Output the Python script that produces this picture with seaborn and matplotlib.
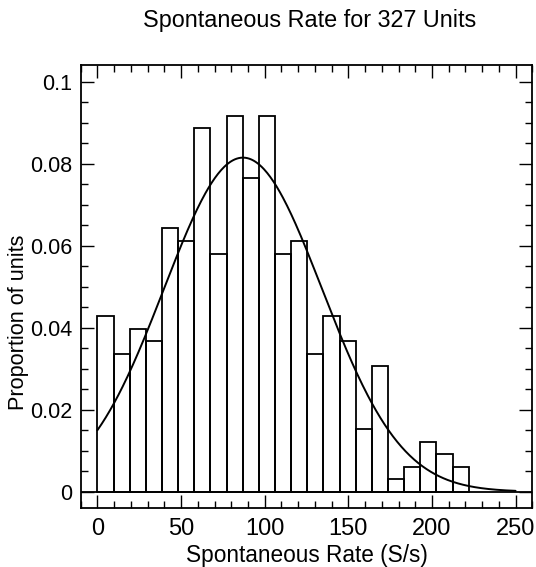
import numpy as np
import pandas as pd
import matplotlib
matplotlib.use("Agg")
import matplotlib.pyplot as plt
import seaborn as sns
from matplotlib.ticker import MultipleLocator, FixedLocator, FixedFormatter

# ---- data ----
bin_width = 9.65
counts = [14, 11, 13, 12, 21, 20, 29, 19, 30, 25, 30, 19, 20, 11, 14, 12, 5, 10, 1, 2, 4, 3, 2]
n_units = 327
fit_mean = 87.0
fit_sd = 47.3
fit_peak = 0.0815
fit_range = (0, 250)
x_ticks = [0, 50, 100, 150, 200, 250]
y_ticks = [0, 0.02, 0.04, 0.06, 0.08, 0.1]
y_tick_labels = ["0", "0.02", "0.04", "0.06", "0.08", "0.1"]
title = "Spontaneous Rate for 327 Units"
x_label = "Spontaneous Rate (S/s)"
y_label = "Proportion of units"

sns.set_theme(style="ticks")
plt.rcParams["font.family"] = ["Liberation Sans", "DejaVu Sans"]
plt.rcParams["text.color"] = "black"

edges = [i * bin_width for i in range(len(counts) + 1)]
centers = [(edges[i] + edges[i + 1]) / 2 for i in range(len(counts))]
df = pd.DataFrame({"rate": centers, "prop": np.array(counts) / n_units})

xs = np.linspace(fit_range[0], fit_range[1], 400)
curve = pd.DataFrame({"rate": xs,
                      "prop": fit_peak * np.exp(-(xs - fit_mean) ** 2 / (2 * fit_sd ** 2))})

fig = plt.figure(figsize=(5.36, 5.67), dpi=100)
ax = fig.add_axes([0.1506, 0.1035, 0.8425, 0.7819])

sns.histplot(data=df, x="rate", weights="prop", bins=edges, fill=False,
             color="black", linewidth=1.3, ax=ax)
sns.lineplot(data=curve, x="rate", y="prop", color="black", linewidth=1.4, ax=ax)
ax.axhline(0, color="black", linewidth=1.3)

ax.set_xlim(-10, 260)
ax.set_ylim(-0.00405, 0.1041)
ax.xaxis.set_major_locator(FixedLocator(x_ticks))
ax.xaxis.set_minor_locator(MultipleLocator(10))
ax.yaxis.set_major_locator(FixedLocator(y_ticks))
ax.yaxis.set_major_formatter(FixedFormatter(y_tick_labels))
ax.yaxis.set_minor_locator(MultipleLocator(0.005))
ax.tick_params(which="both", direction="in", top=True, right=True, colors="black",
               width=1.0)
ax.tick_params(which="major", length=9.5)
ax.tick_params(which="minor", length=5)
ax.tick_params(axis="x", which="major", labelsize=17, pad=7)
ax.tick_params(axis="y", which="major", labelsize=15.5, pad=6)
for s in ax.spines.values():
    s.set_linewidth(1.3)
    s.set_color("black")

ax.set_xlabel("")
ax.set_ylabel("")
fig.text(0.578, 0.963, title, ha="center", va="center", fontsize=16.8)
fig.text(0.573, 0.021, x_label, ha="center", va="center", fontsize=16.3)
fig.text(0.034, 0.432, y_label, ha="center", va="center", rotation=90, fontsize=15.6)

fig.savefig("out.png", dpi=100)
